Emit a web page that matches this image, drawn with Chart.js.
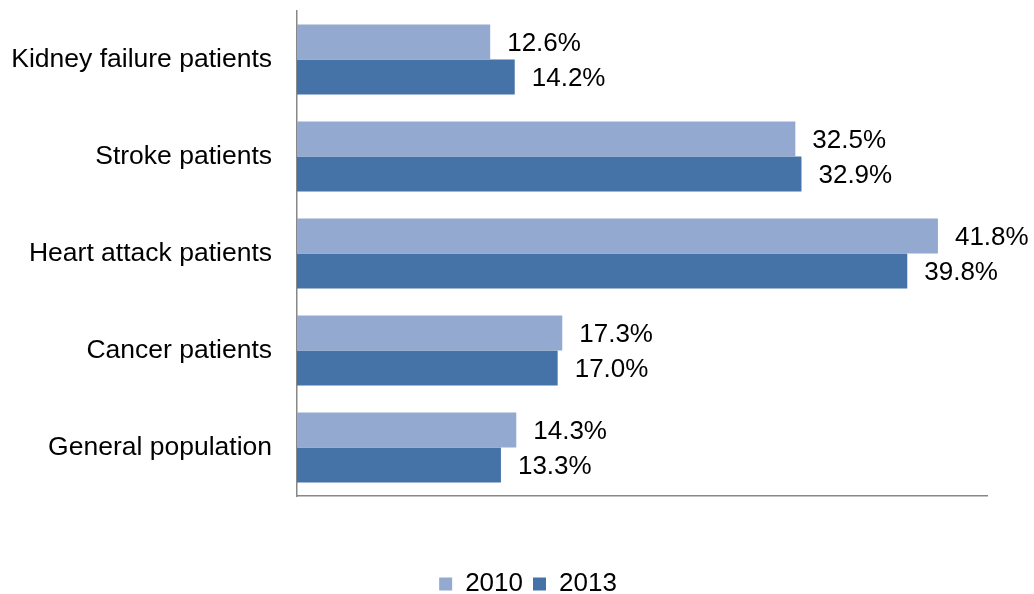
<!DOCTYPE html>
<html>
<head>
<meta charset="utf-8">
<script src="https://cdn.jsdelivr.net/npm/chart.js@4/dist/chart.umd.min.js"></script>
<style>
html,body{margin:0;padding:0;background:#fff;}
#wrap{width:1034px;height:594px;position:relative;}
</style>
</head>
<body>
<div id="wrap"><canvas id="c" width="1034" height="594"></canvas></div>
<script>
const categories = ["Kidney failure patients", "Stroke patients", "Heart attack patients", "Cancer patients", "General population"];
const seriesNames = ["2010", "2013"];
const values2010 = [12.6, 32.5, 41.8, 17.3, 14.3];
const values2013 = [14.2, 32.9, 39.8, 17.0, 13.3];

Chart.defaults.font.family = "'Liberation Sans', Arial, sans-serif";
Chart.defaults.font.size = 26;
Chart.defaults.color = '#000';

const valueLabels = {
  id: 'valueLabels',
  afterDatasetsDraw(chart) {
    const ctx = chart.ctx;
    ctx.save();
    ctx.font = "26px 'Liberation Sans', Arial, sans-serif";
    ctx.fillStyle = '#000';
    ctx.textAlign = 'left';
    ctx.textBaseline = 'middle';
    chart.data.datasets.forEach((ds, i) => {
      const meta = chart.getDatasetMeta(i);
      meta.data.forEach((bar, j) => {
        ctx.fillText(ds.data[j].toFixed(1) + '%', bar.x + 17, bar.y + 1.5);
      });
    });
    ctx.restore();
  }
};

const legendShift = {
  id: 'legendShift',
  afterLayout(chart) {
    const lg = chart.legend;
    if (!lg) return;
    lg.left += 29; lg.right += 29;
    lg.top += 13; lg.bottom += 13;
  }
};

new Chart(document.getElementById('c'), {
  type: 'bar',
  data: {
    labels: categories,
    datasets: [
      { label: seriesNames[0], data: values2010, backgroundColor: '#94A9D0', borderWidth: 0 },
      { label: seriesNames[1], data: values2013, backgroundColor: '#4573A7', borderWidth: 0 }
    ]
  },
  options: {
    indexAxis: 'y',
    responsive: false,
    animation: false,
    devicePixelRatio: 1,
    layout: { padding: { left: 11, right: 47, top: 11, bottom: 0 } },
    datasets: { bar: { categoryPercentage: 0.72, barPercentage: 1.0 } },
    scales: {
      x: {
        min: 0, max: 45,
        grid: { display: false, drawTicks: false },
        border: { display: true, color: '#888888', width: 1.5 },
        ticks: { display: false },
        afterFit: s => { s.height = 52; }
      },
      y: {
        grid: { display: false, drawTicks: false },
        border: { display: true, color: '#888888', width: 1.5 },
        ticks: { padding: 25, color: '#000', font: { size: 26.5 } },
        afterFit: s => { s.width = 286; s.paddingTop = 0; s.paddingBottom = 0; }
      }
    },
    plugins: {
      legend: {
        position: 'bottom',
        labels: { boxWidth: 13, boxHeight: 13, padding: 10, color: '#000', font: { size: 26 } }
      },
      tooltip: { enabled: false },
      title: { display: false }
    }
  },
  plugins: [valueLabels, legendShift]
});
</script>
</body>
</html>
